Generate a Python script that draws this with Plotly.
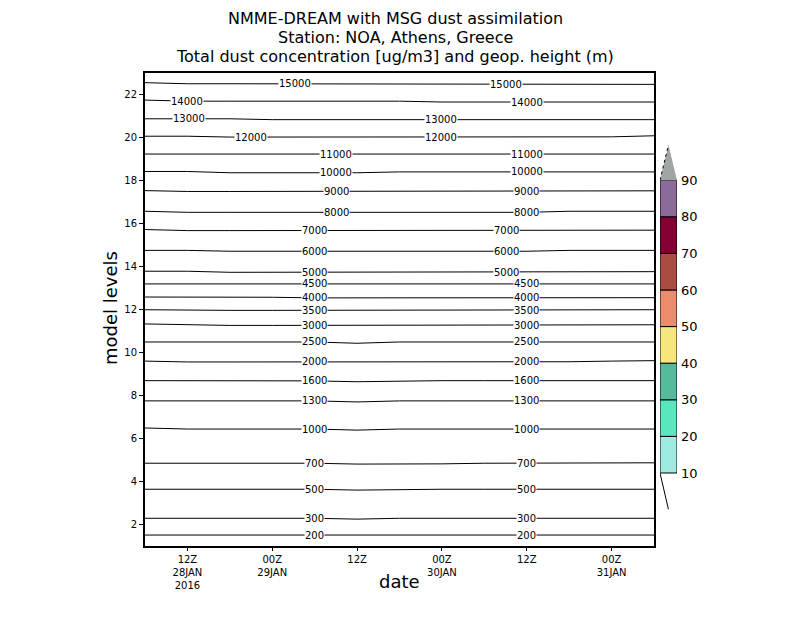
import numpy as np
import pandas as pd
import plotly.graph_objects as go

# 6-hourly steps of the run, 06Z 28JAN2016 -> 06Z 31JAN2016
times = pd.date_range('2016-01-28 06:00', '2016-01-31 06:00', freq='6h')
hours = np.arange(len(times)) * 6

# geop. height isolines (m) and the model level they sit on at each time step
heights = [200, 300, 500, 700, 1000, 1300, 1600, 2000, 2500, 3000, 3500, 4000,
           4500, 5000, 6000, 7000, 8000, 9000, 10000, 11000, 12000, 13000, 14000, 15000]

level_rows = [
    [1.51, 1.51, 1.51, 1.51, 1.51, 1.51, 1.51, 1.51, 1.51, 1.51, 1.51, 1.51, 1.51],
    [2.29, 2.29, 2.29, 2.29, 2.29, 2.25, 2.29, 2.29, 2.29, 2.29, 2.29, 2.29, 2.29],
    [3.64, 3.64, 3.64, 3.64, 3.64, 3.60, 3.63, 3.64, 3.64, 3.64, 3.64, 3.64, 3.64],
    [4.85, 4.85, 4.85, 4.85, 4.85, 4.81, 4.81, 4.82, 4.85, 4.85, 4.87, 4.87, 4.87],
    [6.49, 6.44, 6.44, 6.44, 6.44, 6.39, 6.44, 6.44, 6.44, 6.44, 6.44, 6.44, 6.44],
    [7.75, 7.75, 7.75, 7.75, 7.75, 7.70, 7.75, 7.75, 7.75, 7.75, 7.75, 7.75, 7.75],
    [8.69, 8.69, 8.69, 8.69, 8.68, 8.64, 8.67, 8.69, 8.69, 8.69, 8.69, 8.69, 8.69],
    [9.60, 9.56, 9.56, 9.56, 9.56, 9.56, 9.56, 9.56, 9.56, 9.56, 9.57, 9.60, 9.62],
    [10.49, 10.49, 10.49, 10.49, 10.49, 10.43, 10.49, 10.49, 10.49, 10.49, 10.49, 10.49, 10.49],
    [11.33, 11.28, 11.26, 11.26, 11.26, 11.26, 11.26, 11.26, 11.26, 11.26, 11.27, 11.29, 11.29],
    [11.99, 11.96, 11.96, 11.96, 11.96, 11.96, 11.96, 11.96, 11.96, 11.96, 11.96, 11.99, 11.99],
    [12.58, 12.58, 12.58, 12.57, 12.54, 12.54, 12.54, 12.54, 12.55, 12.55, 12.55, 12.55, 12.55],
    [13.19, 13.19, 13.19, 13.19, 13.19, 13.19, 13.19, 13.19, 13.19, 13.19, 13.19, 13.19, 13.19],
    [13.78, 13.78, 13.73, 13.73, 13.73, 13.73, 13.73, 13.73, 13.73, 13.73, 13.76, 13.76, 13.76],
    [14.75, 14.75, 14.71, 14.71, 14.71, 14.71, 14.71, 14.71, 14.71, 14.71, 14.75, 14.75, 14.75],
    [15.72, 15.67, 15.67, 15.67, 15.67, 15.67, 15.67, 15.67, 15.67, 15.67, 15.67, 15.67, 15.69],
    [16.57, 16.52, 16.52, 16.52, 16.52, 16.52, 16.52, 16.52, 16.52, 16.52, 16.57, 16.57, 16.57],
    [17.53, 17.49, 17.49, 17.49, 17.49, 17.49, 17.49, 17.49, 17.49, 17.49, 17.49, 17.49, 17.52],
    [18.42, 18.42, 18.36, 18.36, 18.36, 18.36, 18.40, 18.40, 18.40, 18.40, 18.40, 18.40, 18.40],
    [19.23, 19.23, 19.23, 19.23, 19.23, 19.23, 19.23, 19.23, 19.23, 19.23, 19.23, 19.23, 19.23],
    [20.06, 20.06, 20.02, 20.02, 20.02, 20.02, 20.02, 20.02, 20.03, 20.03, 20.03, 20.03, 20.08],
    [20.87, 20.87, 20.87, 20.83, 20.83, 20.83, 20.83, 20.83, 20.83, 20.83, 20.83, 20.83, 20.83],
    [21.74, 21.69, 21.69, 21.69, 21.69, 21.69, 21.69, 21.65, 21.65, 21.65, 21.65, 21.65, 21.65],
    [22.55, 22.50, 22.50, 22.50, 22.50, 22.50, 22.50, 22.47, 22.47, 22.47, 22.47, 22.47, 22.47],
]

# dust concentration shading levels (ug/m3) - nothing above 10 at this station
dust_levels = [10, 20, 30, 40, 50, 60, 70, 80, 90]
dust_colors = ['#a0ebe1', '#5ae6be', '#55bb9c', '#f5e67d', '#ea8c6e',
               '#a94d43', '#820032', '#8c6b9a']
over_color = '#a0a5a5'

# x ticks
tick_times = ['2016-01-28 12:00', '2016-01-29 00:00', '2016-01-29 12:00',
              '2016-01-30 00:00', '2016-01-30 12:00', '2016-01-31 00:00']
tick_text = ['12Z<br>28JAN<br>2016', '00Z<br>29JAN', '12Z', '00Z<br>30JAN', '12Z', '00Z<br>31JAN']

fig = go.Figure()

# --- isolines of geopotential height ---
for row in level_rows:
    fig.add_trace(go.Scatter(x=times, y=row, mode='lines',
                             line=dict(color='black', width=1),
                             hoverinfo='skip', showlegend=False))

# where GrADS put the contour labels (hours after 06Z 28JAN)
label_hours = {
    15000: [21.2, 51.0], 14000: [6.0, 54.0], 13000: [6.2, 41.9], 12000: [15.0, 41.9],
    11000: [27.0, 54.0], 10000: [27.0, 54.0], 9000: [27.1, 53.9], 8000: [27.1, 53.9],
    7000: [24.0, 51.1], 6000: [24.0, 51.1], 5000: [24.0, 51.1],
}
for h, row in zip(heights, level_rows):
    for lh in label_hours.get(h, [24.0, 54.0]):
        fig.add_annotation(x=times[0] + pd.Timedelta(hours=lh),
                           y=float(np.interp(lh, hours, row)),
                           text=str(h), showarrow=False, bgcolor='white', borderpad=0,
                           xanchor='center', yanchor='middle',
                           font=dict(size=10, color='black', family='DejaVu Sans'))

# --- colour key on its own little axis ---
fig.add_trace(go.Bar(x=[0.5] * len(dust_colors), y=np.diff(dust_levels), base=dust_levels[:-1],
                     width=1, marker=dict(color=dust_colors, line=dict(color='black', width=1)),
                     xaxis='x2', yaxis='y2', hoverinfo='skip', showlegend=False))
top = dust_levels[-1] + 9.6
fig.add_trace(go.Scatter(x=[0, 1, 0.5, 0], y=[dust_levels[-1], dust_levels[-1], top, dust_levels[-1]],
                         fill='toself', fillcolor=over_color, mode='lines', line=dict(width=0),
                         xaxis='x2', yaxis='y2', hoverinfo='skip', showlegend=False))
fig.add_trace(go.Scatter(x=[0, 0.5], y=[dust_levels[-1], top], mode='lines',
                         line=dict(color='black', width=1, dash='dot'),
                         xaxis='x2', yaxis='y2', hoverinfo='skip', showlegend=False))
fig.add_trace(go.Scatter(x=[0, 0.5], y=[dust_levels[0], 0], mode='lines',
                         line=dict(color='black', width=1),
                         xaxis='x2', yaxis='y2', hoverinfo='skip', showlegend=False))

font = 'DejaVu Sans'
fig.update_layout(
    width=800, height=618,
    margin=dict(l=0, r=0, t=0, b=0),
    paper_bgcolor='white', plot_bgcolor='white',
    font=dict(family=font, color='black'),
    xaxis=dict(domain=[145 / 800, 654 / 800], range=[times[0], times[-1]],
               tickvals=tick_times, ticktext=tick_text, tickfont=dict(size=10),
               ticks='outside', ticklen=3, tickcolor='black',
               showline=True, linecolor='black', linewidth=2, mirror=True,
               showgrid=False, zeroline=False, automargin=False),
    yaxis=dict(domain=[1 - 546 / 618, 1 - 73 / 618], range=[1, 23],
               tickvals=list(range(2, 23, 2)), tickfont=dict(size=10),
               ticks='outside', ticklen=4, tickcolor='black',
               showline=True, linecolor='black', linewidth=2, mirror=True,
               showgrid=False, zeroline=False, automargin=False),
    xaxis2=dict(domain=[660 / 800, 677 / 800], range=[0, 1], anchor='y2', visible=False),
    yaxis2=dict(domain=[1 - 509.6 / 618, 1 - 145 / 618], range=[0, 99.6], anchor='x2',
                side='right', tickvals=dust_levels, tickfont=dict(size=13),
                ticklabelstandoff=3,
                showgrid=False, zeroline=False, showline=False, automargin=False),
)

# titles
titles = ['NMME-DREAM with MSG dust assimilation', 'Station: NOA, Athens, Greece',
          'Total dust concentration [ug/m3] and geop. height (m)']
for txt, ypix in zip(titles, [18.5, 37.5, 56]):
    fig.add_annotation(x=395 / 800, y=1 - ypix / 618, xref='paper', yref='paper',
                       xanchor='center', yanchor='middle',
                       text=txt, showarrow=False, font=dict(size=16))
fig.add_annotation(x=110 / 800, y=1 - 308 / 618, xref='paper', yref='paper',
                   xanchor='center', yanchor='middle',
                   text='model levels', textangle=-90, showarrow=False, font=dict(size=18))
fig.add_annotation(x=399 / 800, y=1 - 581 / 618, xref='paper', yref='paper',
                   xanchor='center', yanchor='middle',
                   text='date', showarrow=False, font=dict(size=18))

# page body has an 8px default margin, drop it so the figure fills the window
fig.write_html('out.html', config={'displayModeBar': False},
               post_script="document.body.style.margin = '0';")
